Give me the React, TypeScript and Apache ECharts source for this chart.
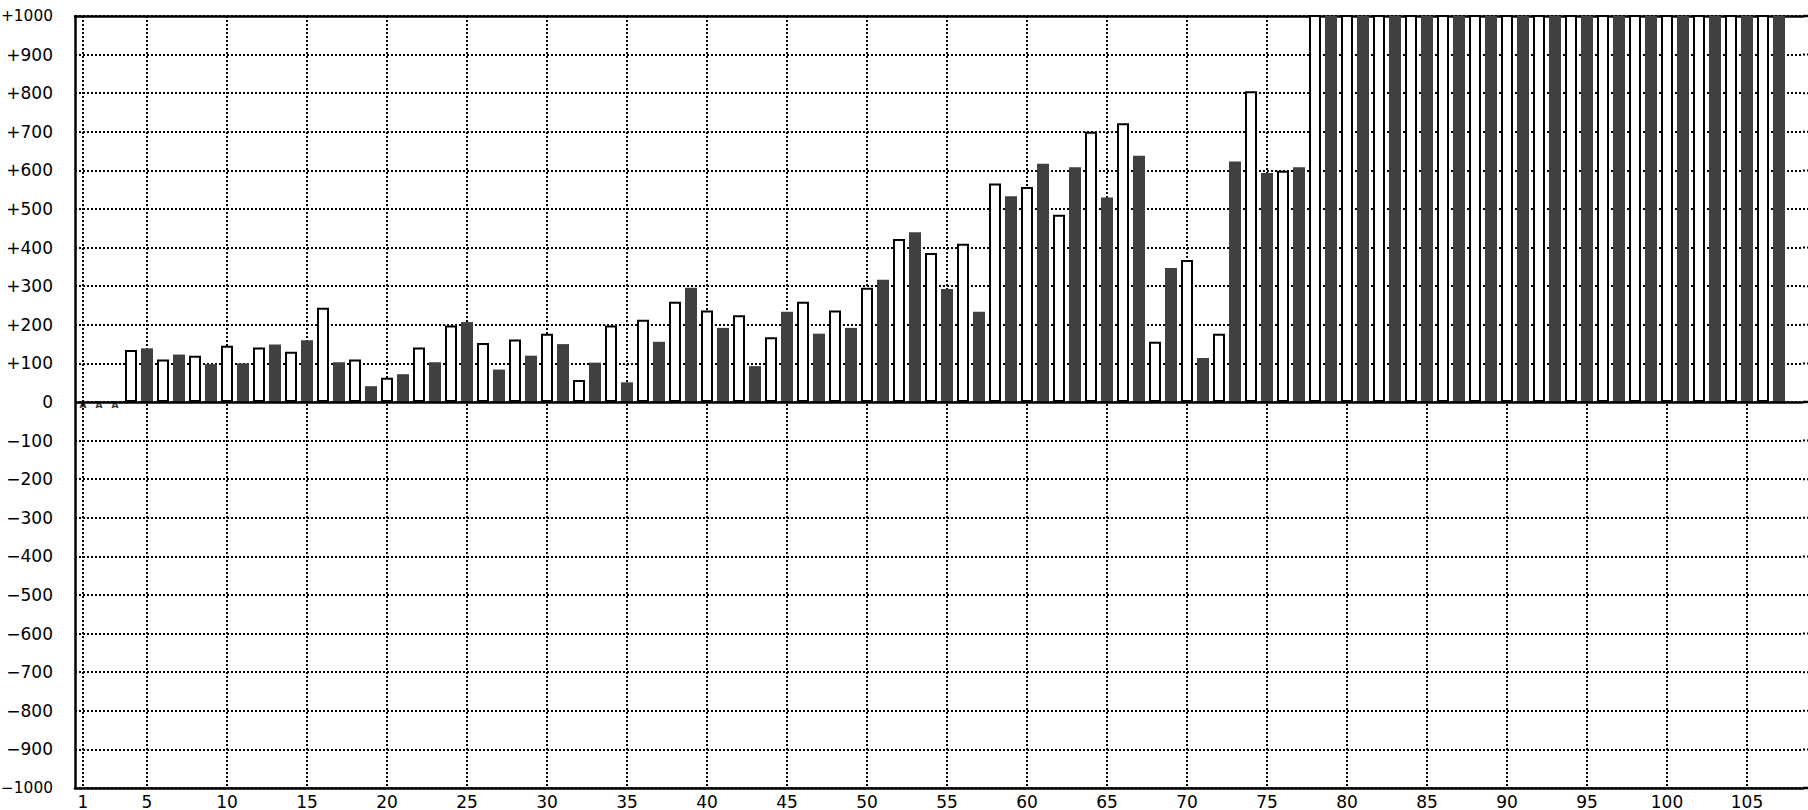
import React, { useEffect, useRef } from "react";
import * as echarts from "echarts";

const categories: string[] = Array.from({ length: 108 }, (_, i) => String(i + 1));

// values per category 1..108 (null = no bar); values above 1000 are clipped at the top
const values: (number | null)[] = [
  null, null, null, 135, 139, 110, 123, 120, 98, 146,
  100, 141, 149, 130, 160, 244, 103, 110, 41, 63,
  72, 141, 103, 198, 207, 153, 84, 162, 120, 177,
  150, 57, 102, 198, 51, 213, 156, 260, 296, 237,
  192, 225, 93, 168, 234, 260, 177, 237, 192, 296,
  317, 422, 440, 386, 293, 410, 234, 566, 533, 557,
  617, 485, 608, 700, 530, 722, 638, 156, 347, 368,
  114, 177, 623, 805, 593, 599, 608, 1100, 1100, 1100,
  1100, 1100, 1100, 1100, 1100, 1100, 1100, 1100, 1100, 1100,
  1100, 1100, 1100, 1100, 1100, 1100, 1100, 1100, 1100, 1100,
  1100, 1100, 1100, 1100, 1100, 1100, 1100, null,
];

// small markers at the zero line
const markerCategories: string[] = ["1", "2", "3"];
const markerText = "A";

const yMin = -1000;
const yMax = 1000;
const yStep = 100;

const FONT = "DejaVu Sans";
const W = 1808;
const H = 810;

export default function App() {
  const ref = useRef<HTMLDivElement>(null);

  useEffect(() => {
    if (!ref.current) return;
    const chart = echarts.init(ref.current, null, { renderer: "svg" });

    const showIdx = (_i: number, v: string) => v === "1" || Number(v) % 5 === 0;

    const barData = values.map((v, i) => {
      const white = (i + 1) % 2 === 0;
      return {
        value: v,
        itemStyle: white
          ? { color: "#ffffff", borderColor: "#000000", borderWidth: 2 }
          : { color: "#404040", borderWidth: 0 },
      };
    });

    const fmt = (v: number) => {
      const s = v > 0 ? "+" + v : v < 0 ? "\u2212" + Math.abs(v) : "0";
      return Math.abs(v) >= 1000 ? "{s|" + s + "}" : s;
    };

    chart.setOption({
      animation: false,
      backgroundColor: "#ffffff",
      textStyle: { fontFamily: FONT, fontSize: 17, color: "#000" },
      grid: {
        left: 75,
        right: 5,
        top: 16,
        bottom: 22,
        containLabel: false,
        outerBoundsMode: "none",
      },
      xAxis: [
        {
          type: "category",
          data: categories,
          position: "bottom",
          boundaryGap: true,
          axisLine: { show: true, onZero: false, lineStyle: { color: "#000", width: 2.5 } },
          axisTick: { show: false },
          axisLabel: {
            interval: showIdx,
            color: "#000",
            fontFamily: FONT,
            fontSize: 17,
            margin: 5,
            hideOverlap: false,
          },
          splitLine: {
            show: true,
            interval: showIdx,
            alignWithLabel: true,
            lineStyle: { color: "#000", width: 2, type: [2, 2] },
          },
        },
        {
          type: "category",
          data: categories,
          position: "top",
          axisLine: { show: true, onZero: false, lineStyle: { color: "#000", width: 2.5 } },
          axisTick: { show: false },
          axisLabel: { show: false },
          splitLine: { show: false },
        },
      ],
      yAxis: {
        type: "value",
        min: yMin,
        max: yMax,
        interval: yStep,
        axisLine: { show: true, onZero: false, lineStyle: { color: "#000", width: 2.5 } },
        axisTick: { show: false },
        axisLabel: {
          color: "#000",
          fontFamily: FONT,
          fontSize: 17,
          margin: 22,
          hideOverlap: false,
          formatter: fmt,
          rich: {
            s: { fontFamily: FONT, fontSize: 15.4, color: "#000" },
          },
        },
        splitLine: { show: true, lineStyle: { color: "#000", width: 2, type: [2, 2] } },
      },
      series: [
        {
          type: "bar",
          data: barData,
          barWidth: 12,
          clip: true,
          markLine: {
            silent: true,
            symbol: "none",
            label: { show: false },
            lineStyle: { color: "#000", width: 2.5, type: "solid" },
            data: [{ yAxis: 0 }],
          },
        },
        {
          type: "scatter",
          data: markerCategories.map((c) => [c, 0]),
          symbolSize: 0,
          z: 10,
          label: {
            show: true,
            position: "inside",
            formatter: markerText,
            fontFamily: FONT,
            fontSize: 9,
            fontWeight: "bold",
            offset: [0, 3],
            color: "#000",
          },
        },
      ],
    });

    // extend the frame and grid lines to the right edge of the picture
    const xEnd = chart.convertToPixel({ xAxisIndex: 0 }, categories[categories.length - 1]) + 8;
    const ticks: number[] = [];
    for (let v = yMin; v <= yMax; v += yStep) ticks.push(v);
    const ext = ticks.map((v) => {
      const y = chart.convertToPixel({ yAxisIndex: 0 }, v);
      const solid = v === 0 || v === yMin || v === yMax;
      return {
        type: "line",
        shape: { x1: xEnd, y1: y, x2: W, y2: y },
        style: solid
          ? { stroke: "#000", lineWidth: 2.5 }
          : { stroke: "#000", lineWidth: 2, lineDash: [2, 2] },
        silent: true,
        z: 5,
      };
    });
    chart.setOption({ graphic: ext });

    return () => chart.dispose();
  }, []);

  return (
    <div
      ref={ref}
      style={{ position: "fixed", left: 0, top: 0, width: W, height: H }}
    />
  );
}
